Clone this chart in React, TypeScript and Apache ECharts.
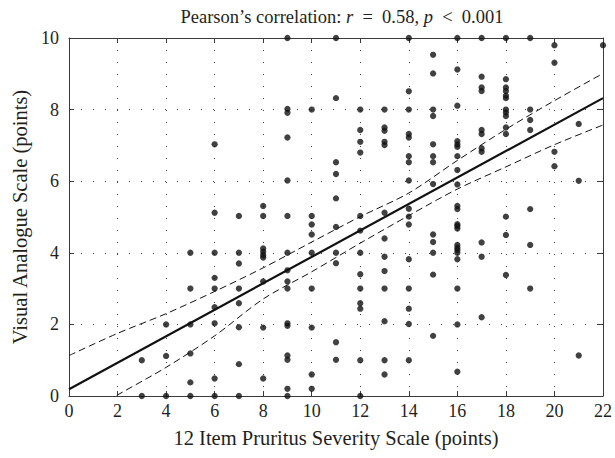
import React, { useEffect, useRef } from "react";
import * as echarts from "echarts";

// 12-Item Pruritus Severity Scale scores (x) and the VAS values observed at each score (y)
const pssLevels = [3, 4, 5, 6, 7, 8, 9, 10, 11, 12, 13, 14, 15, 16, 17, 18, 19, 20, 21, 22];
const vasByLevel = [
  [0, 1.0],
  [0, 1.12, 2.0],
  [0, 0.38, 1.19, 2.0, 3.0, 4.0],
  [0, 0.49, 2.03, 2.48, 3.0, 3.3, 4.0, 5.12, 7.03],
  [0, 0.89, 1.92, 2.59, 3.0, 3.7, 4.0, 5.03],
  [0.49, 1.91, 3.2, 3.87, 3.94, 4.03, 4.12, 5.03, 5.31],
  [0, 0.2, 1.01, 1.13, 1.96, 2.03, 3.0, 3.2, 3.51, 4.0, 5.03, 6.02, 7.22, 7.91, 8.02, 10],
  [0.2, 0.6, 1.91, 3.0, 4.0, 4.51, 4.79, 5.03, 8.0],
  [1.01, 1.5, 3.71, 4.0, 4.72, 5.52, 6.2, 6.53, 8.32, 10],
  [0, 1.0, 2.44, 2.59, 3.0, 3.4, 4.0, 4.62, 5.03, 6.8, 7.1, 7.43, 8.0],
  [0.6, 1.0, 2.09, 3.0, 3.49, 3.89, 4.4, 5.12, 7.01, 7.1, 7.41, 7.5, 8.0],
  [1.0, 2.01, 2.44, 3.0, 3.82, 4.79, 5.01, 5.23, 6.02, 6.53, 6.7, 7.22, 7.32, 8.0, 8.51, 10],
  [1.68, 3.39, 4.0, 4.3, 4.51, 5.92, 6.53, 6.7, 7.03, 7.82, 8.0, 9.01, 9.53],
  [0.68, 2.0, 3.0, 3.82, 4.0, 4.08, 4.14, 4.22, 4.68, 4.75, 4.8, 5.22, 5.31, 5.91, 6.31, 6.7, 6.96, 7.03, 7.12, 8.11, 9.12, 10],
  [2.2, 3.89, 4.29, 6.82, 6.92, 7.32, 7.43, 8.52, 8.62, 8.92, 10],
  [3.38, 4.5, 5.01, 7.32, 7.5, 7.82, 7.92, 8.0, 8.32, 8.39, 8.52, 8.62, 8.85, 10],
  [3.0, 4.22, 5.22, 7.43, 7.71, 8.0, 10],
  [6.42, 6.82, 9.31, 9.8],
  [1.13, 6.01, 7.6],
  [9.8],
];

// fitted regression line
const fitX = [0, 22];
const fitY = [0.19, 8.32];

// 95% confidence band, read at even PSS values
const bandX = [0, 2, 4, 6, 8, 10, 12, 14, 16, 18, 20, 22];
const upperBand = [1.13, 1.75, 2.3, 2.92, 3.58, 4.3, 5.01, 5.67, 6.58, 7.45, 8.25, 9.01];
const lowerBand = [-0.75, 0.03, 0.8, 1.68, 2.71, 3.47, 4.27, 5.04, 5.78, 6.4, 7.02, 7.57];

const xTicks = { min: 0, max: 22, interval: 2 };
const yTicks = { min: 0, max: 10, interval: 2 };

const INK = "#231f20";
const FONT = "'Liberation Serif', 'DejaVu Serif', serif";

export default function App() {
  const ref = useRef<HTMLDivElement>(null);

  useEffect(() => {
    if (!ref.current) return;
    const chart = echarts.init(ref.current, undefined, { renderer: "svg" });

    const points: number[][] = [];
    pssLevels.forEach((x, i) => {
      vasByLevel[i].forEach((y) => points.push([x, y]));
    });

    const axisCommon = {
      axisLine: { show: true, onZero: false, lineStyle: { color: "#3a3a3a", width: 1 } },
      axisTick: { show: true, inside: true, length: 5, lineStyle: { color: "#3a3a3a", width: 1 } },
    };

    chart.setOption({
      animation: false,
      backgroundColor: "#ffffff",
      title: {
        left: 337,
        top: 2,
        textAlign: "center",
        text: "{n|Pearson\u2019s correlation: }{i|r}{n|  =  0.58, }{i|p}{n|  <  0.001}",
        textStyle: {
          fontWeight: "normal",
          rich: {
            n: { fontFamily: FONT, fontSize: 18.5, color: INK, fontWeight: "normal" },
            i: { fontFamily: FONT, fontSize: 18.5, color: INK, fontStyle: "italic", fontWeight: "normal" },
          },
        },
      },
      grid: { left: 69, right: 11, top: 38, bottom: 62, containLabel: false },
      xAxis: [
        {
          type: "value",
          ...xTicks,
          position: "bottom",
          ...axisCommon,
          axisLabel: { color: INK, fontFamily: FONT, fontSize: 18, margin: 6 },
          splitLine: { show: true, lineStyle: { color: "#444", width: 1, type: [1, 11] } },
          name: "12 Item Pruritus Severity Scale (points)",
          nameLocation: "middle",
          nameGap: 31,
          nameTextStyle: { color: INK, fontFamily: FONT, fontSize: 20.5 },
        },
        {
          type: "value",
          ...xTicks,
          position: "top",
          ...axisCommon,
          axisLabel: { show: false },
          splitLine: { show: false },
        },
      ],
      yAxis: [
        {
          type: "value",
          ...yTicks,
          position: "left",
          ...axisCommon,
          axisLabel: { color: INK, fontFamily: FONT, fontSize: 18, margin: 10 },
          splitLine: { show: true, lineStyle: { color: "#444", width: 1, type: [1, 11] } },
          name: "Visual Analogue Scale (points)",
          nameLocation: "middle",
          nameGap: 36,
          nameTextStyle: { color: INK, fontFamily: FONT, fontSize: 20.5 },
        },
        {
          type: "value",
          ...yTicks,
          position: "right",
          ...axisCommon,
          axisLabel: { show: false },
          splitLine: { show: false },
        },
      ],
      series: [
        {
          type: "scatter",
          data: points,
          symbol: "circle",
          symbolSize: 6.3,
          itemStyle: { color: "#111111" },
          z: 3,
        },
        {
          type: "line",
          data: fitX.map((x, i) => [x, fitY[i]]),
          symbol: "none",
          lineStyle: { color: "#111111", width: 2.2 },
          z: 4,
        },
        {
          type: "line",
          data: bandX.map((x, i) => [x, upperBand[i]]),
          symbol: "none",
          smooth: 0.3,
          lineStyle: { color: "#111111", width: 1, type: [7, 4] },
          z: 4,
        },
        {
          type: "line",
          data: bandX.map((x, i) => [x, lowerBand[i]]),
          symbol: "none",
          smooth: 0.3,
          clip: true,
          lineStyle: { color: "#111111", width: 1, type: [7, 4] },
          z: 4,
        },
      ],
    });

    return () => chart.dispose();
  }, []);

  return <div ref={ref} style={{ width: 615, height: 458, position: "absolute", left: 0, top: 0 }} />;
}
